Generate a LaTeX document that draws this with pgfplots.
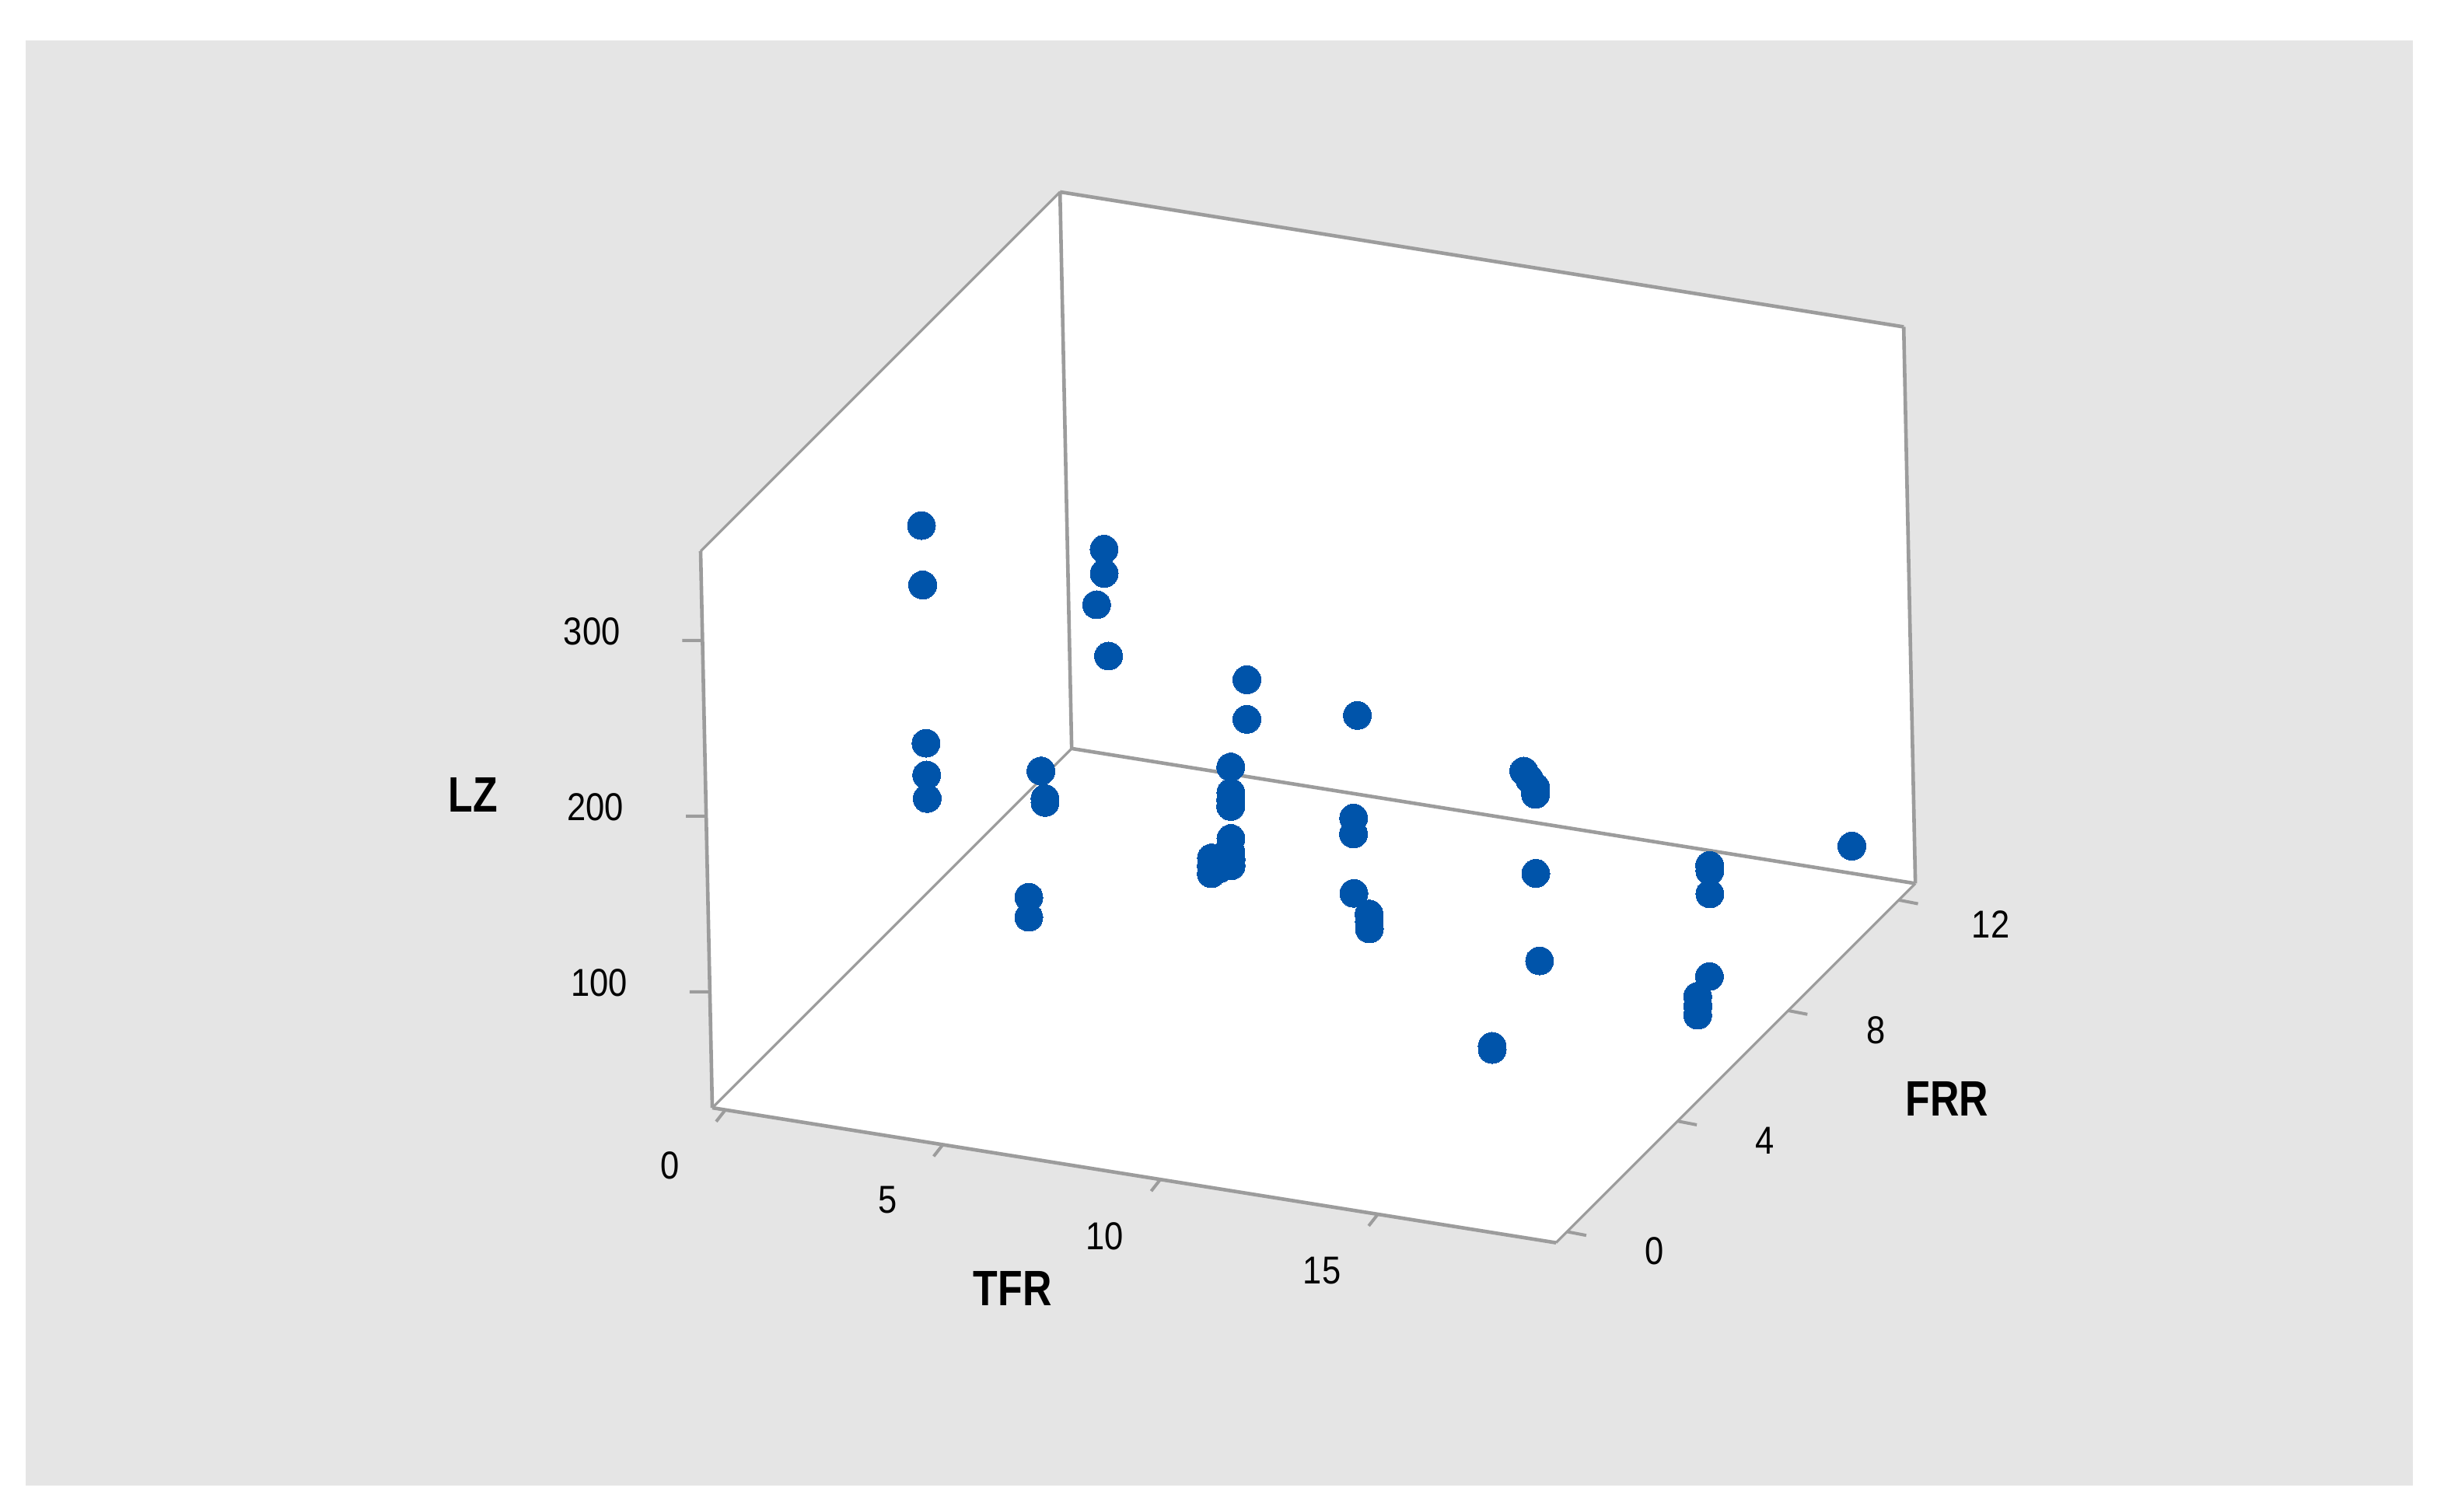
\documentclass[border=0pt]{standalone}
\usepackage{pgfplots}
\pgfplotsset{compat=1.18}
\usepackage{fontspec}
\setmainfont{Liberation Sans}
\newfontfamily\tickf[FakeStretch=0.87]{Liberation Sans}
\newfontfamily\labf[FakeStretch=0.81]{Liberation Sans}
\definecolor{bgray}{HTML}{E5E5E5}
\definecolor{edge}{HTML}{9C9C9C}
\definecolor{dotblue}{HTML}{0054AA}
\begin{document}
\begin{tikzpicture}
\path[use as bounding box,fill=white] (0,0) rectangle (783.5pt,486.25pt);
\fill[bgray] (8.25pt,8.5pt) rectangle (775.75pt,473.25pt);
\fill[white] (229pt,130pt) -- (500.25pt,86.75pt) -- (615.75pt,202.25pt) -- (612pt,381.25pt) -- (340.75pt,424.5pt) -- (225.25pt,309pt) -- cycle;
\begin{axis}[
  at={(236.75pt,132.875pt)}, anchor=origin,
  x={(13.985pt,-2.2375pt)}, y={(8.8875pt,8.8875pt)}, z={(-0.01184pt,0.565pt)},
  xmin=-0.3, xmax=19.096, ymin=-0.4, ymax=12.6, zmin=34, zmax=350.8,
  3d box=background,
  clip=false,
  xtick={0,5,10,15}, ytick={0,4,8,12}, ztick={100,200,300},
  minor tick num=0,
  tick align=outside,
  major tick length=5.5pt,
  axis line style={edge,line width=1.15pt},
  y axis line style={line width=0.8pt},
  tick style={draw=none},
  grid=none,
  /pgf/number format/assume math mode=true,
  tick label style={font=\tickf\fontsize{12.5pt}{14pt}\selectfont,text=black},
  x tick label style={xshift=-10.5pt,yshift=-5.5pt},
  y tick label style={xshift=16pt,yshift=2.3pt},
  z tick label style={xshift=-19pt,yshift=11pt},
  xlabel={TFR}, ylabel={FRR}, zlabel={LZ},
  label style={font=\labf\bfseries\fontsize{16pt}{18pt}\selectfont,text=black,anchor=center},
  xlabel style={at={(axis cs:9.239,-4.551,34)}},
  ylabel style={at={(axis cs:23.99,6.037,34)},rotate=0},
  zlabel style={at={(axis cs:-5.354,-0.89,200)},rotate=-90},
]
% tick marks
\addplot3[edge,line width=1pt,forget plot] coordinates {(0,-0.4,34) (0.05,-0.81,34)};
\addplot3[edge,line width=1pt,forget plot] coordinates {(5,-0.4,34) (5.05,-0.81,34)};
\addplot3[edge,line width=1pt,forget plot] coordinates {(10,-0.4,34) (10.05,-0.81,34)};
\addplot3[edge,line width=1pt,forget plot] coordinates {(15,-0.4,34) (15.05,-0.81,34)};
\addplot3[edge,line width=1pt,forget plot] coordinates {(19.096,0,34) (19.55,-0.02,34)};
\addplot3[edge,line width=1pt,forget plot] coordinates {(19.096,4,34) (19.55,3.98,34)};
\addplot3[edge,line width=1pt,forget plot] coordinates {(19.096,8,34) (19.55,7.98,34)};
\addplot3[edge,line width=1pt,forget plot] coordinates {(19.096,12,34) (19.55,11.98,34)};
\addplot3[edge,line width=1pt,forget plot] coordinates {(-0.3,-0.4,100) (-0.7,-0.5,100)};
\addplot3[edge,line width=1pt,forget plot] coordinates {(-0.3,-0.4,200) (-0.7,-0.5,200)};
\addplot3[edge,line width=1pt,forget plot] coordinates {(-0.3,-0.4,300) (-0.7,-0.5,300)};
\addplot3[only marks,mark=*,mark size=4.5pt,mark options={draw=dotblue,fill=dotblue,line width=0pt},color=dotblue] table[row sep=\\] {
x y z\\
3.244 2 341.7\\
3.244 2 307.8\\
3.244 2 217.8\\
3.244 2 199.7\\
3.244 2 186.3\\
3.54 8 235.0\\
3.53 8 221.2\\
3.34 8 202.6\\
3.59 8 174.4\\
3.277 6 139.2\\
3.357 6 123.8\\
3.357 6 121.6\\
2.937 6 66.05\\
2.927 6 54.55\\
7.657 6 158.8\\
7.647 6 144.2\\
7.642 6 140.0\\
7.637 6 136.3\\
7.627 6 118.0\\
7.617 6 110.3\\
7.62 6 106.0\\
7.617 6 102.4\\
7.347 6 105.9\\
7.25 6 102.0\\
7.337 6 99.5\\
7.167 6 105.1\\
7.16 6 100.5\\
7.157 6 96.1\\
6.12 9 155.2\\
6.10 9 132.6\\
8.00 10 126.6\\
10.467 6 140.9\\
10.457 6 131.8\\
10.437 6 97.9\\
10.777 6 87.5\\
10.777 6 83.2\\
10.777 6 79.0\\
11.81 10 110.0\\
11.94 10 105.9\\
12.07 10 102.0\\
12.07 10 100.0\\
12.07 10 97.8\\
13.34 8 89.3\\
14.687 6 76.3\\
15.505 3 78.1\\
15.505 3 76.3\\
18.657 6 146.4\\
18.657 6 143.3\\
18.647 6 130.1\\
18.597 6 82.9\\
18.317 6 70.5\\
18.317 6 65.0\\
18.307 6 59.7\\
18.692 11 78.8\\
};
\end{axis}
\end{tikzpicture}
\end{document}
